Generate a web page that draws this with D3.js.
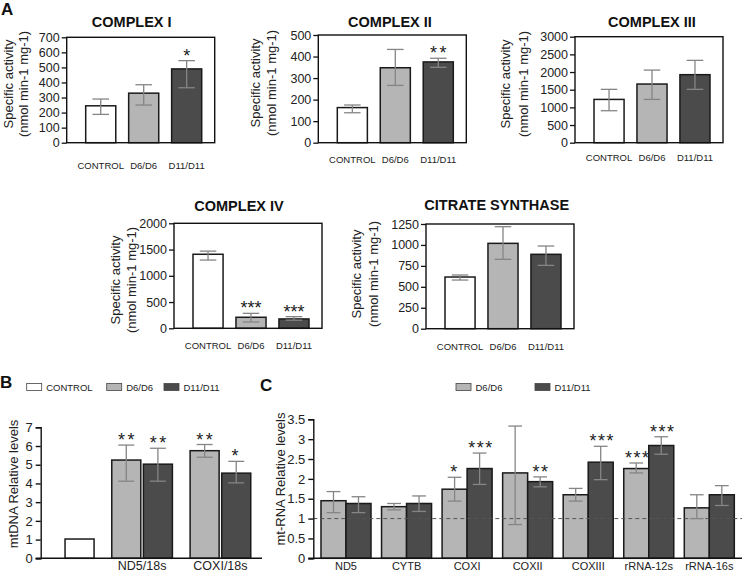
<!DOCTYPE html>
<html>
<head>
<meta charset="utf-8">
<script src="https://cdn.jsdelivr.net/npm/d3@7"></script>
<style>
  body { margin: 0; background: #fff; }
  text { font-family: "Liberation Sans", Arial, Helvetica, sans-serif; }
</style>
</head>
<body>
<script>
// ---------------- DATA ----------------
const groupsA = ["CONTROL", "D6/D6", "D11/D11"];

const complexI_mean = [245, 329, 490];
const complexI_lo   = [188, 250, 365];
const complexI_hi   = [290, 385, 545];
const complexI_sig  = ["", "", "*"];

const complexII_mean = [163, 348, 375];
const complexII_lo   = [139, 266, 350];
const complexII_hi   = [175, 433, 392];
const complexII_sig  = ["", "", "**"];

const complexIII_mean = [1225, 1660, 1925];
const complexIII_lo   = [905, 1225, 1510];
const complexIII_hi   = [1510, 2055, 2330];
const complexIII_sig  = ["", "", ""];

const complexIV_mean = [1410, 210, 178];
const complexIV_lo   = [1300, 120, 155];
const complexIV_hi   = [1470, 285, 222];
const complexIV_sig  = ["", "***", "***"];

const citrate_mean = [617, 1019, 888];
const citrate_lo   = [581, 828, 756];
const citrate_hi   = [641, 1218, 987];
const citrate_sig  = ["", "", ""];

const ticksI   = [0, 100, 200, 300, 400, 500, 600, 700];
const ticksII  = [0, 100, 200, 300, 400, 500];
const ticksIII = [0, 500, 1000, 1500, 2000, 2500, 3000];
const ticksIV  = [0, 500, 1000, 1500, 2000];
const ticksCS  = [0, 250, 500, 750, 1000, 1250];

// Panel B
const seriesB = ["CONTROL", "D6/D6", "D11/D11"];
const genesB = ["ND5/18s", "COXI/18s"];
const controlB = 1.03;
const d6B_mean = [5.25, 5.75];
const d6B_lo   = [4.12, 5.40];
const d6B_hi   = [6.05, 6.08];
const d6B_sig  = ["**", "**"];
const d11B_mean = [5.03, 4.55];
const d11B_lo   = [4.12, 4.03];
const d11B_hi   = [5.88, 5.18];
const d11B_sig  = ["**", "*"];
const ticksB = [0, 1, 2, 3, 4, 5, 6, 7];

// Panel C
const seriesC = ["D6/D6", "D11/D11"];
const genesC = ["ND5", "CYTB", "COXI", "COXII", "COXIII", "rRNA-12s", "rRNA-16s"];
const d6C_mean = [1.45, 1.30, 1.74, 2.15, 1.60, 2.26, 1.27];
const d6C_lo   = [1.15, 1.22, 1.44, 0.85, 1.44, 2.15, 1.00];
const d6C_hi   = [1.68, 1.38, 2.04, 3.33, 1.76, 2.40, 1.60];
const d6C_sig  = ["", "", "*", "", "", "***", ""];
const d11C_mean = [1.38, 1.38, 2.26, 1.93, 2.42, 2.84, 1.60];
const d11C_lo   = [1.15, 1.18, 1.86, 1.80, 1.98, 2.62, 1.33];
const d11C_hi   = [1.55, 1.57, 2.65, 2.05, 2.82, 3.06, 1.83];
const d11C_sig  = ["", "", "***", "**", "***", "***", ""];
const ticksC = [0, 0.5, 1, 1.5, 2, 2.5, 3, 3.5];
const referenceC = 1;

// ---------------- STYLE ----------------
const fills = { "CONTROL": "#ffffff", "D6/D6": "#b5b5b5", "D11/D11": "#4b4b4b" };
const barStroke = "#1a1a1a";
const errColor = "#858585";

const svg = d3.select("body").append("svg").attr("width", 745).attr("height", 571);

function errorBar(g, cx, w, yTop, yBot) {
  const cw = w * 0.55;
  g.append("line").attr("x1", cx).attr("x2", cx).attr("y1", yTop).attr("y2", yBot)
    .attr("stroke", errColor).attr("stroke-width", 1.3);
  [yTop, yBot].forEach(yy => g.append("line").attr("x1", cx - cw / 2).attr("x2", cx + cw / 2)
    .attr("y1", yy).attr("y2", yy).attr("stroke", errColor).attr("stroke-width", 1.3));
}
function stars(g, cx, y, s, size, ls) {
  if (!s) return;
  g.append("text").attr("x", cx + ls * s.length / 2 - ls / 2).attr("y", y).attr("text-anchor", "middle")
    .attr("font-size", size).attr("letter-spacing", ls).attr("fill", "#222").text(s);
}

// ---------------- PANEL A ----------------
function panelA(cfg, title, mean, lo, hi, sig, ticks) {
  const W = 148;
  const g = svg.append("g");
  const y = d3.scaleLinear().domain([0, ticks[ticks.length - 1]]).range([cfg.B, cfg.T]);
  const x = d3.scaleBand().domain(groupsA).range([cfg.L + 19, cfg.L + 135]).paddingInner(0.3).paddingOuter(0);
  const data = groupsA.map((k, i) => ({ k, m: mean[i], lo: lo[i], hi: hi[i], s: sig[i] }));

  g.selectAll("rect.bar").data(data).join("rect").attr("class", "bar")
    .attr("x", d => x(d.k)).attr("width", x.bandwidth())
    .attr("y", d => y(d.m)).attr("height", d => cfg.B - y(d.m))
    .attr("fill", d => fills[d.k]).attr("stroke", barStroke).attr("stroke-width", 1.5);
  data.forEach(d => {
    const cx = x(d.k) + x.bandwidth() / 2;
    errorBar(g, cx, x.bandwidth(), y(d.hi), y(d.lo));
    stars(g, cx, y(d.hi) + 1, d.s, 18, cfg.ls);
  });

  // frame
  g.append("rect").attr("x", cfg.L).attr("y", cfg.T).attr("width", W).attr("height", cfg.B - cfg.T)
    .attr("fill", "none").attr("stroke", "#111").attr("stroke-width", 1.4);

  const ax = g.append("g").attr("transform", `translate(${cfg.L},0)`)
    .call(d3.axisLeft(y).tickValues(ticks).tickSize(5).tickPadding(2).tickFormat(d3.format("d")));
  ax.select(".domain").remove();
  ax.selectAll("line").attr("stroke", "#111").attr("stroke-width", 1.3);
  ax.selectAll("text").attr("font-size", 12.5).attr("fill", "#222").style("font-family", '"Liberation Sans", Arial, sans-serif');

  g.selectAll("text.xl").data(groupsA).join("text").attr("class", "xl")
    .attr("x", d => x(d) + x.bandwidth() / 2).attr("y", cfg.B + cfg.xo)
    .attr("text-anchor", "middle").attr("font-size", 9.5).attr("fill", "#222").text(d => d);

  g.append("text").attr("x", cfg.tx).attr("y", cfg.ty).attr("text-anchor", "middle")
    .attr("font-size", 14.5).attr("font-weight", "bold").attr("fill", "#111").text(title);

  ["Specific activity", "(nmol min-1 mg-1)"].forEach((t, i) => {
    g.append("text").attr("transform", `translate(${cfg.yl[i] + 4.5},${cfg.ylc}) rotate(-90)`)
      .attr("text-anchor", "middle").attr("font-size", 13).attr("fill", "#222").text(t);
  });
}

panelA({ L: 66.7, T: 37.3, B: 142.7, xo: 26.5, tx: 131.7, ty: 27, yl: [8.5, 23.5], ylc: 84, ls: 0 },
  "COMPLEX I", complexI_mean, complexI_lo, complexI_hi, complexI_sig, ticksI);
panelA({ L: 318.3, T: 35, B: 142.7, xo: 20.5, tx: 390, ty: 27, yl: [255, 271.7], ylc: 83, ls: 2.5 },
  "COMPLEX II", complexII_mean, complexII_lo, complexII_hi, complexII_sig, ticksII);
panelA({ L: 575, T: 36.7, B: 142.7, xo: 18.5, tx: 652, ty: 27, yl: [505, 523.3], ylc: 84, ls: 0 },
  "COMPLEX III", complexIII_mean, complexIII_lo, complexIII_hi, complexIII_sig, ticksIII);
panelA({ L: 174, T: 223.3, B: 328.3, xo: 21, tx: 239, ty: 211, yl: [115, 131.7], ylc: 280, ls: 0 },
  "COMPLEX IV", complexIV_mean, complexIV_lo, complexIV_hi, complexIV_sig, ticksIV);
panelA({ L: 426, T: 224, B: 328.7, xo: 20.8, tx: 496.7, ty: 210, yl: [356, 373], ylc: 274, ls: 0 },
  "CITRATE SYNTHASE", citrate_mean, citrate_lo, citrate_hi, citrate_sig, ticksCS);

// ---------------- PANEL LETTERS ----------------
[["A", 1, 15], ["B", 0, 387.5], ["C", 260, 391]].forEach(([t, x, y]) =>
  svg.append("text").attr("x", x).attr("y", y).attr("font-size", 17).attr("font-weight", "bold").attr("fill", "#111").text(t));

// ---------------- LEGENDS ----------------
function legend(items, xs) {
  items.forEach((k, i) => {
    svg.append("rect").attr("x", xs[i]).attr("y", 383.5).attr("width", 15).attr("height", 7)
      .attr("fill", fills[k]).attr("stroke", "#444").attr("stroke-width", 0.8);
    svg.append("text").attr("x", xs[i] + 19.5).attr("y", 391).attr("font-size", 9.5).attr("fill", "#222").text(k);
  });
}
legend(seriesB, [26.7, 106.7, 164]);
legend(seriesC, [456, 535]);

// ---------------- PANEL B ----------------
{
  const g = svg.append("g");
  const y = d3.scaleLinear().domain([0, 7]).range([558.3, 427.3]);
  const x = d3.scaleLinear().domain([-0.77, 6.23]).range([40.7, 262]); // slot units
  const gapU = 0.478, bwU = 0.918;
  const bars = [{ k: "CONTROL", slot: 0, grp: 0, m: controlB, lo: null, hi: null, s: "" }];
  genesB.forEach((gname, i) => {
    bars.push({ k: "D6/D6", slot: 1 + 2 * i, grp: 1 + i, m: d6B_mean[i], lo: d6B_lo[i], hi: d6B_hi[i], s: d6B_sig[i] });
    bars.push({ k: "D11/D11", slot: 2 + 2 * i, grp: 1 + i, m: d11B_mean[i], lo: d11B_lo[i], hi: d11B_hi[i], s: d11B_sig[i] });
  });
  const px = d => x(d.slot + d.grp * gapU);
  const bw = x(bwU) - x(0);
  g.selectAll("rect").data(bars).join("rect")
    .attr("x", px).attr("width", bw).attr("y", d => y(d.m)).attr("height", d => y(0) - y(d.m))
    .attr("fill", d => fills[d.k]).attr("stroke", barStroke).attr("stroke-width", 1.5);
  bars.forEach(d => {
    if (d.hi == null) return;
    const cx = px(d) + bw / 2;
    errorBar(g, cx, bw, y(d.hi), y(d.lo));
    stars(g, cx, y(d.hi) + 1, d.s, 18, 2.5);
  });
  const ax = g.append("g").attr("transform", "translate(40.7,0)")
    .call(d3.axisLeft(y).tickValues(ticksB).tickSize(5).tickPadding(3).tickFormat(d3.format("d")));
  ax.select(".domain").attr("stroke", "#111").attr("stroke-width", 1.4);
  ax.selectAll("line").attr("stroke", "#111").attr("stroke-width", 1.4);
  ax.selectAll("text").attr("font-size", 13).attr("fill", "#222").style("font-family", '"Liberation Sans", Arial, sans-serif');
  g.append("line").attr("x1", 35.7).attr("x2", 262).attr("y1", y(0)).attr("y2", y(0)).attr("stroke", "#111").attr("stroke-width", 1.4);
  genesB.forEach((gname, i) => {
    const cx = (x(1 + 2 * i + (1 + i) * gapU) + x(2 + 2 * i + (1 + i) * gapU + bwU)) / 2;
    g.append("text").attr("x", cx).attr("y", 569.5).attr("text-anchor", "middle").attr("font-size", 12.5).attr("fill", "#222").text(gname);
  });
  g.append("text").attr("transform", "translate(17.5,484) rotate(-90)").attr("text-anchor", "middle")
    .attr("font-size", 13).attr("fill", "#222").text("mtDNA Relative levels");
}

// ---------------- PANEL C ----------------
{
  const g = svg.append("g");
  const y = d3.scaleLinear().domain([0, 3.5]).range([558.3, 419.3]);
  const x0 = d3.scaleBand().domain(genesC).range([313.3, 742]).paddingInner(0.174).paddingOuter(0.127);
  const x1 = d3.scaleBand().domain(seriesC).range([0, x0.bandwidth()]).padding(0);
  const bars = [];
  genesC.forEach((gname, i) => {
    bars.push({ gname, k: "D6/D6", m: d6C_mean[i], lo: d6C_lo[i], hi: d6C_hi[i], s: d6C_sig[i] });
    bars.push({ gname, k: "D11/D11", m: d11C_mean[i], lo: d11C_lo[i], hi: d11C_hi[i], s: d11C_sig[i] });
  });
  g.selectAll("rect").data(bars).join("rect")
    .attr("x", d => x0(d.gname) + x1(d.k)).attr("width", x1.bandwidth())
    .attr("y", d => y(d.m)).attr("height", d => y(0) - y(d.m))
    .attr("fill", d => fills[d.k]).attr("stroke", barStroke).attr("stroke-width", 1.5);
  g.append("line").attr("x1", 313.3).attr("x2", 742).attr("y1", y(referenceC)).attr("y2", y(referenceC))
    .attr("stroke", "#555").attr("stroke-width", 1).attr("stroke-dasharray", "4,3");
  bars.forEach(d => {
    const cx = x0(d.gname) + x1(d.k) + x1.bandwidth() / 2;
    errorBar(g, cx, x1.bandwidth(), y(d.hi), y(d.lo));
    stars(g, cx, y(d.hi) + 1, d.s, 18, 1.5);
  });
  const ax = g.append("g").attr("transform", "translate(313.3,0)")
    .call(d3.axisLeft(y).tickValues(ticksC).tickSize(5).tickPadding(3).tickFormat(d3.format("~g")));
  ax.select(".domain").attr("stroke", "#111").attr("stroke-width", 1.4);
  ax.selectAll("line").attr("stroke", "#111").attr("stroke-width", 1.4);
  ax.selectAll("text").attr("font-size", 13).attr("fill", "#222").style("font-family", '"Liberation Sans", Arial, sans-serif');
  g.append("line").attr("x1", 308.3).attr("x2", 742).attr("y1", y(0)).attr("y2", y(0)).attr("stroke", "#111").attr("stroke-width", 1.4);
  g.selectAll("text.xl").data(genesC).join("text").attr("class", "xl")
    .attr("x", d => x0(d) + x0.bandwidth() / 2).attr("y", 569.5).attr("text-anchor", "middle")
    .attr("font-size", 11).attr("fill", "#222").text(d => d);
  g.append("text").attr("transform", "translate(285,479) rotate(-90)").attr("text-anchor", "middle")
    .attr("font-size", 13).attr("fill", "#222").text("mt-RNA Relative levels");
}
</script>
</body>
</html>
